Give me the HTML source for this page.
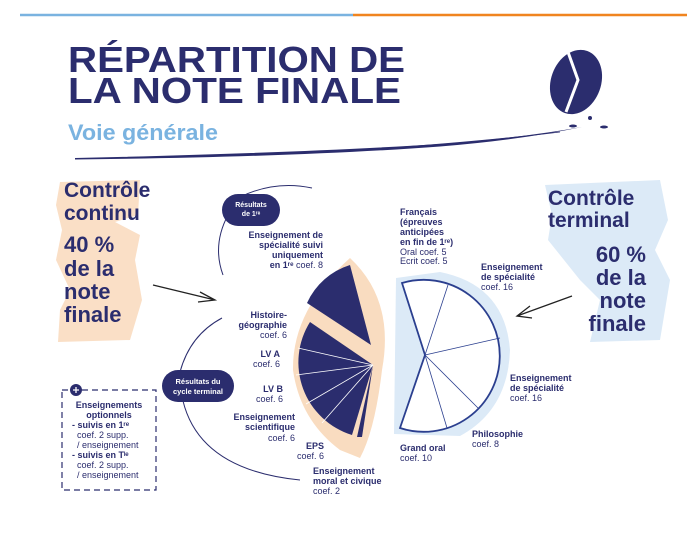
<!DOCTYPE html>
<html><head><meta charset="utf-8"><style>
html,body{margin:0;padding:0;background:#fff;}
svg{display:block;font-family:"Liberation Sans",sans-serif;}
.b{font-weight:bold;}
.l{font-size:9px;fill:#2b2d6e;}
</style></head><body>
<svg width="687" height="551" viewBox="0 0 687 551" xmlns="http://www.w3.org/2000/svg">
<rect width="687" height="551" fill="#fff"/>
<line x1="20" y1="15" x2="353" y2="15" stroke="#7ab3e0" stroke-width="2.5"/>
<line x1="353" y1="15" x2="687" y2="15" stroke="#f0841f" stroke-width="2.5"/>
<text x="68" y="72" class="b" font-size="36" fill="#2b2d6e" textLength="337" lengthAdjust="spacingAndGlyphs">RÉPARTITION DE</text>
<text x="68" y="103" class="b" font-size="36" fill="#2b2d6e" textLength="333" lengthAdjust="spacingAndGlyphs">LA NOTE FINALE</text>
<text x="68" y="140" class="b" font-size="22" fill="#7ab3e0" textLength="150" lengthAdjust="spacingAndGlyphs">Voie générale</text>
<path d="M75 158 Q300 153 440 144 Q520 138 582 127 Q520 140 440 146.5 Q300 157 75 159.5Z" fill="#2b2d6e"/>
<path d="M360 150 Q480 142 560 132" stroke="#2b2d6e" stroke-width="0.8" fill="none"/>
<ellipse cx="576" cy="82" rx="25" ry="33" transform="rotate(20 576 82)" fill="#2b2d6e"/>
<path d="M568 52 L578 80 L566 112" stroke="#fff" stroke-width="3" fill="none"/>
<ellipse cx="590" cy="118" rx="2" ry="2" fill="#2b2d6e"/>
<ellipse cx="573" cy="126" rx="4" ry="1.5" fill="#2b2d6e"/>
<ellipse cx="604" cy="127" rx="4" ry="1.5" fill="#2b2d6e"/>

<!-- left brush -->
<path d="M60 182 L140 180 L138 215 L115 222 L140 235 L135 260 L142 300 L130 340 L58 342 L60 310 L70 290 L56 260 L62 230 L56 205Z" fill="#f9dcc0" opacity="0.9"/>
<g class="b" fill="#2b2d6e" font-size="21">
<text x="64" y="197">Contrôle</text>
<text x="64" y="220">continu</text>
<text x="64" y="252" font-size="22">40 %</text>
<text x="64" y="276" font-size="22">de la</text>
<text x="64" y="299" font-size="22">note</text>
<text x="64" y="322" font-size="22">finale</text>
</g>
<path d="M153 285 L215 300 M200 292 L215 300 L198 302" stroke="#222" stroke-width="1.3" fill="none"/>

<!-- right brush -->
<path d="M545 185 L660 180 L668 220 L655 250 L670 280 L660 340 L590 342 L600 300 L580 280 L548 240 L552 215Z" fill="#dceaf7"/>
<g class="b" fill="#2b2d6e" font-size="21">
<text x="548" y="205">Contrôle</text>
<text x="548" y="227">terminal</text>
<g font-size="22" text-anchor="end">
<text x="646" y="262">60 %</text>
<text x="646" y="285">de la</text>
<text x="646" y="308">note</text>
<text x="646" y="331">finale</text>
</g></g>
<path d="M572 296 L517 316 M530 306 L517 316 L532 318" stroke="#222" stroke-width="1.3" fill="none"/>

<!-- left pie -->
<path d="M350 258 Q395 300 382 370 Q375 430 360 458 L340 450 Q300 420 293 370 Q292 310 350 258Z" fill="#f9dcc0"/>
<path d="M371 345 L307 303 A70 70 0 0 1 350 265 Z" fill="#2b2d6e"/>
<path d="M373 365 L310 322 A76 76 0 0 0 352 435 Z" fill="#2b2d6e"/>
<path d="M373 365 L357 437 L362 437 Z" fill="#2b2d6e"/>
<g stroke="#fff" stroke-width="0.8">
<line x1="373" y1="365" x2="298" y2="348"/>
<line x1="373" y1="365" x2="296" y2="375"/>
<line x1="373" y1="365" x2="306" y2="404"/>
<line x1="373" y1="365" x2="322" y2="423"/>
</g>

<!-- right pie -->
<path d="M396 278 L440 272 Q505 285 510 350 Q508 410 460 436 L394 434 Z" fill="#dceaf7"/>
<path d="M425 355 L402 283 A76 76 0 1 1 400 428 Z" fill="#fff" stroke="#2b3f8f" stroke-width="1.8"/>
<g stroke="#2b3f8f" stroke-width="0.8">
<line x1="425" y1="355" x2="448" y2="285"/>
<line x1="425" y1="355" x2="500" y2="338"/>
<line x1="425" y1="355" x2="478" y2="408"/>
<line x1="425" y1="355" x2="447" y2="428"/>
</g>

<!-- curves -->
<g stroke="#2b2d6e" stroke-width="1" fill="none">
<path d="M240 197 Q275 180 312 188"/>
<path d="M228 215 Q212 245 223 275"/>
<path d="M222 318 Q190 335 180 372"/>
<path d="M183 401 Q200 470 300 480"/>
</g>
<rect x="222" y="194" width="58" height="32" rx="16" fill="#2b2d6e"/>
<text x="251" y="207" class="b" font-size="7" fill="#fff" text-anchor="middle">Résultats</text>
<text x="251" y="216" class="b" font-size="7" fill="#fff" text-anchor="middle">de 1ʳᵉ</text>
<rect x="162" y="370" width="72" height="32" rx="16" fill="#2b2d6e"/>
<text x="198" y="384" class="b" font-size="7.5" fill="#fff" text-anchor="middle">Résultats du</text>
<text x="198" y="394" class="b" font-size="7.5" fill="#fff" text-anchor="middle">cycle terminal</text>

<!-- left labels -->
<g class="l" text-anchor="end">
<text x="323" y="238" class="b">Enseignement de</text>
<text x="323" y="248" class="b">spécialité suivi</text>
<text x="323" y="258" class="b">uniquement</text>
<text x="323" y="268"><tspan class="b">en 1ʳᵉ</tspan> coef. 8</text>
<text x="287" y="318" class="b">Histoire-</text>
<text x="287" y="328" class="b">géographie</text>
<text x="287" y="338">coef. 6</text>
<text x="280" y="357" class="b">LV A</text>
<text x="280" y="367">coef. 6</text>
<text x="283" y="392" class="b">LV B</text>
<text x="283" y="402">coef. 6</text>
<text x="295" y="420" class="b">Enseignement</text>
<text x="295" y="430" class="b">scientifique</text>
<text x="295" y="441">coef. 6</text>
<text x="324" y="449" class="b">EPS</text>
<text x="324" y="459">coef. 6</text>
</g>
<g class="l">
<text x="313" y="474" class="b">Enseignement</text>
<text x="313" y="484" class="b">moral et civique</text>
<text x="313" y="494">coef. 2</text>
</g>

<!-- right labels -->
<g class="l">
<text x="400" y="215" class="b">Français</text>
<text x="400" y="225" class="b">(épreuves</text>
<text x="400" y="235" class="b">anticipées</text>
<text x="400" y="245" class="b">en fin de 1ʳᵉ)</text>
<text x="400" y="255">Oral coef. 5</text>
<text x="400" y="264">Ecrit coef. 5</text>
<text x="481" y="270" class="b">Enseignement</text>
<text x="481" y="280" class="b">de spécialité</text>
<text x="481" y="290">coef. 16</text>
<text x="510" y="381" class="b">Enseignement</text>
<text x="510" y="391" class="b">de spécialité</text>
<text x="510" y="401">coef. 16</text>
<text x="472" y="437" class="b">Philosophie</text>
<text x="472" y="447">coef. 8</text>
<text x="400" y="451" class="b">Grand oral</text>
<text x="400" y="461">coef. 10</text>
</g>

<!-- optional box -->
<rect x="62" y="390" width="94" height="100" fill="none" stroke="#2b2d6e" stroke-width="1.2" stroke-dasharray="6 4"/>
<circle cx="76" cy="390" r="6" fill="#2b2d6e"/>
<path d="M73 390 H79 M76 387 V393" stroke="#fff" stroke-width="1.3"/>
<g class="l">
<text x="109" y="408" class="b" text-anchor="middle">Enseignements</text>
<text x="109" y="418" class="b" text-anchor="middle">optionnels</text>
<text x="72" y="428" class="b">- suivis en 1ʳᵉ</text>
<text x="77" y="438">coef. 2 supp.</text>
<text x="77" y="448">/ enseignement</text>
<text x="72" y="458" class="b">- suivis en Tˡᵉ</text>
<text x="77" y="468">coef. 2 supp.</text>
<text x="77" y="478">/ enseignement</text>
</g>
</svg>
</body></html>
